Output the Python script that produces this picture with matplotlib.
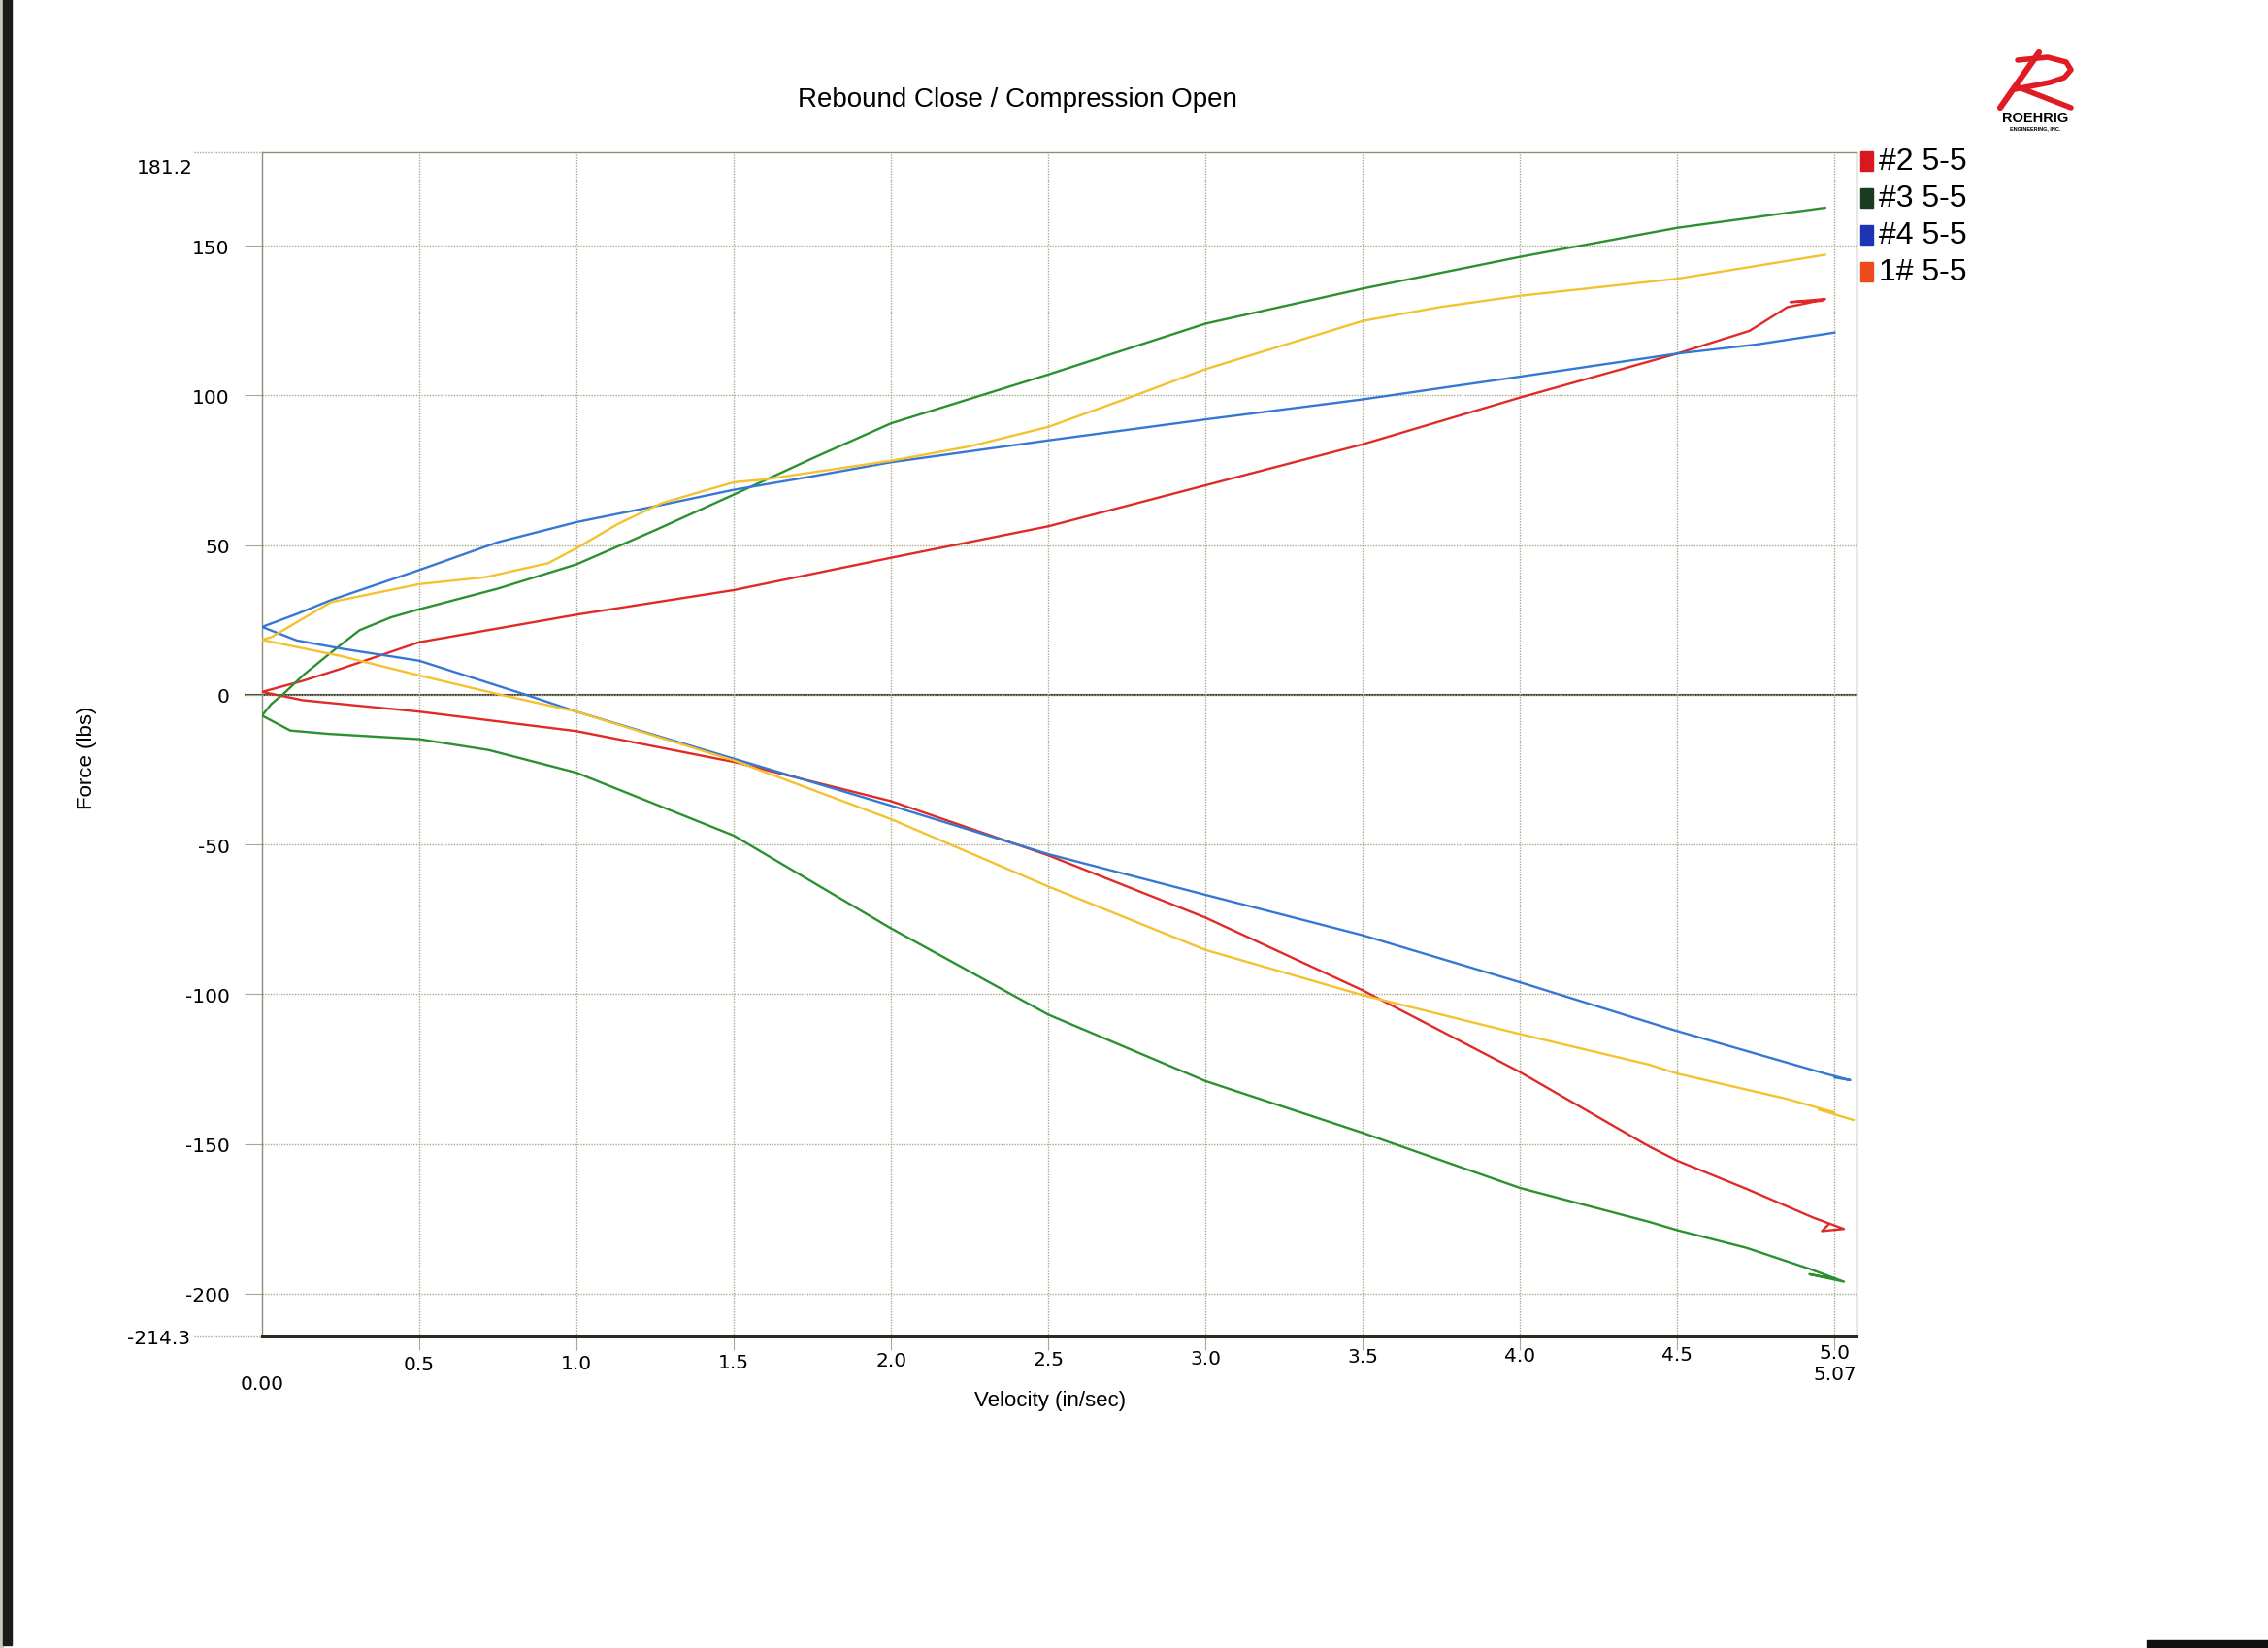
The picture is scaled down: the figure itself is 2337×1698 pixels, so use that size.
import numpy as np
import matplotlib.pyplot as plt
from matplotlib.patches import Rectangle
from matplotlib.lines import Line2D
import matplotlib.transforms as mtransforms

# series names / colours
names = ['#2 5-5', '#3 5-5', '#4 5-5', '1# 5-5']
line_colors = ['#e02a28', '#2b9030', '#3478d4', '#f2c230']
key_colors = ['#d8181e', '#183c20', '#1c34b4', '#ee4a1c']

# rebound branch (force > 0) : velocity (in/sec), force (lbs)
red_up_v = [0, 0.13, 0.25, 0.5, 1.0, 1.5, 2.0, 2.5, 3.0, 3.5, 4.0, 4.5, 4.73, 4.85, 4.92, 4.97, 4.86, 4.96]
red_up_f = [1, 4.7, 8.7, 17.6, 26.8, 35, 45.8, 56.3, 70, 83.7, 99.3, 114, 121.6, 129.5, 131, 132.2, 131.2, 131.6]
green_up_v = [0, 0.03, 0.07, 0.13, 0.2, 0.25, 0.31, 0.41, 0.5, 0.75, 1.0, 1.25, 1.5, 1.75, 2.0, 2.5, 3.0, 3.5, 4.0, 4.5, 4.97]
green_up_f = [-6.9, -3, 0.5, 6.5, 12.5, 16.7, 21.6, 25.9, 28.6, 35.5, 43.6, 55, 66.9, 79, 90.7, 107, 124, 135.7, 146.3, 156, 162.7]
blue_up_v = [0, 0.11, 0.22, 0.5, 0.75, 1.0, 1.25, 1.5, 1.75, 2.0, 2.5, 3.0, 3.5, 4.0, 4.5, 4.75, 5.0]
blue_up_f = [22.7, 27, 31.7, 41.7, 51, 57.7, 63, 68.5, 73, 77.7, 85, 92, 98.7, 106.3, 114, 117, 121]
yellow_up_v = [0, 0.03, 0.09, 0.22, 0.5, 0.71, 0.91, 1.0, 1.13, 1.27, 1.4, 1.5, 1.6, 2.0, 2.25, 2.5, 2.75, 3.0, 3.5, 3.75, 4.0, 4.5, 4.97]
yellow_up_f = [18.4, 19.3, 23, 31, 37, 39.3, 44, 49, 57, 64, 68, 71, 72, 78.2, 83, 89.5, 99, 108.8, 124.9, 129.6, 133.3, 139, 147]

# compression branch (force < 0)
red_lo_v = [0, 0.13, 0.5, 1.0, 1.5, 2.0, 2.5, 3.0, 3.5, 4.0, 4.41, 4.5, 4.72, 4.93, 5.03, 4.96, 4.98]
red_lo_f = [1, -1.8, -5.6, -12.1, -22.4, -35.5, -53.6, -74.4, -98.7, -126, -150.8, -155.6, -165, -174.5, -178.4, -179.1, -177]
green_lo_v = [0, 0.09, 0.21, 0.5, 0.72, 1.0, 1.5, 2.0, 2.5, 3.0, 3.5, 4.0, 4.41, 4.5, 4.72, 4.92, 5.03, 4.92, 5.0]
green_lo_f = [-6.9, -11.9, -13, -14.8, -18.4, -26, -47, -78, -106.8, -129, -146.3, -164.7, -176, -178.8, -184.7, -191.7, -196, -193.5, -195]
blue_lo_v = [0, 0.11, 0.25, 0.5, 0.84, 1.0, 1.5, 2.0, 2.5, 3.0, 3.5, 4.0, 4.49, 4.97, 5.05, 5.0]
blue_lo_f = [22.7, 18.2, 15.5, 11.4, 0, -5.6, -21.3, -37, -53.2, -66.8, -80.3, -96, -112, -126.5, -128.7, -127.8]
yellow_lo_v = [0, 0.04, 0.25, 0.5, 0.76, 1.0, 1.5, 2.0, 2.5, 3.0, 3.5, 4.0, 4.41, 4.5, 4.85, 5.0, 4.95, 5.06]
yellow_lo_f = [18.4, 17.5, 13, 6.5, 0, -5.6, -21.9, -41.5, -64, -85.2, -100.3, -113.3, -123.5, -126.5, -135, -139.5, -138.5, -142]

y_ticks = [-200, -150, -100, -50, 0, 50, 100, 150]
x_ticks = [0.5, 1.0, 1.5, 2.0, 2.5, 3.0, 3.5, 4.0, 4.5, 5.0]
y_min, y_max = -214.3, 181.2
x_max = 5.07

W, H = 2337, 1699
fig = plt.figure(figsize=(W / 100, H / 100), dpi=100)
ax = fig.add_axes([270 / W, 1 - 1378 / H, (1913 - 270) / W, (1378 - 158) / H])

grid_c = '#a9a98e'
tick_fs = 14.5
ax.set_xlim(0, x_max)
ax.set_ylim(y_min, y_max)
ax.set_xticks(x_ticks)
ax.set_xticklabels(['%.1f' % t for t in x_ticks])
ax.set_yticks(y_ticks)
ax.set_yticklabels([str(t) for t in y_ticks])
ax.grid(True, color=grid_c, linestyle=(0, (1, 1)), linewidth=1.0)
ax.tick_params(axis='y', length=13, width=0.8, color=grid_c, pad=11, labelsize=tick_fs)
ax.tick_params(axis='x', length=10, width=0.8, color=grid_c, pad=4, labelsize=tick_fs)
for lab in ax.get_xticklabels() + ax.get_yticklabels():
    lab.set_family('DejaVu Sans')
# the scanned page is slightly rotated: x labels climb to the right
for t, lab in zip(x_ticks, ax.get_xticklabels()):
    lab.set_transform(lab.get_transform() +
                      mtransforms.ScaledTranslation(0, 0.027 * (t - 0.5), fig.dpi_scale_trans))

for side in ['top', 'right', 'left']:
    ax.spines[side].set_color('#8e8e78')
    ax.spines[side].set_linewidth(1.0)
ax.spines['bottom'].set_color('#2a2a22')
ax.spines['bottom'].set_linewidth(2.2)

# zero line and the end-of-range gridlines reaching past the axis
ax.axhline(0, xmin=-0.0103, xmax=1, color='#4a4a3a', linewidth=1.5, clip_on=False, zorder=1.5)
for yv in [y_min, y_max]:
    ax.axhline(yv, xmin=-0.0426, xmax=0, color=grid_c, linestyle=(0, (1, 1)), linewidth=1.0, clip_on=False)

trans = mtransforms.blended_transform_factory(ax.transAxes, ax.transData)
ax.annotate('181.2', xy=(0, y_max), xycoords=trans, xytext=(-51, -11), textcoords='offset points',
            ha='right', va='center', fontsize=tick_fs, family='DejaVu Sans')
ax.annotate('-214.3', xy=(0, y_min), xycoords=trans, xytext=(-53, -1), textcoords='offset points',
            ha='right', va='center', fontsize=tick_fs, family='DejaVu Sans')
ax.annotate('0.00', xy=(0, y_min), xytext=(0, -35), textcoords='offset points',
            ha='center', va='center', fontsize=tick_fs, family='DejaVu Sans', annotation_clip=False)
ax.annotate('5.07', xy=(x_max, y_min), xytext=(0, -28), textcoords='offset points',
            ha='right', va='center', fontsize=tick_fs, family='DejaVu Sans', annotation_clip=False)

ups = [(red_up_v, red_up_f), (green_up_v, green_up_f), (blue_up_v, blue_up_f), (yellow_up_v, yellow_up_f)]
los = [(red_lo_v, red_lo_f), (green_lo_v, green_lo_f), (blue_lo_v, blue_lo_f), (yellow_lo_v, yellow_lo_f)]
for (uv, uf), (lv, lf), c in zip(ups, los, line_colors):
    v = list(lv[::-1]) + list(uv)
    f = list(lf[::-1]) + list(uf)
    ax.plot(v, f, color=c, linewidth=1.7, zorder=3)

sans = 'Liberation Sans'
narrow = ['Liberation Sans Narrow', 'Liberation Sans']
fig.text(1048 / W, 1 - 103 / H, 'Rebound Close / Compression Open', ha='center', va='center',
         fontsize=20, family=sans)
fig.text(1082 / W, 1 - 1444 / H, 'Velocity (in/sec)', ha='center', va='center', fontsize=16, family=narrow)
fig.text(89 / W, 1 - 781 / H, 'Force (lbs)', ha='center', va='center', rotation=90, fontsize=16, family=narrow)

# legend keys
for i, (name, kc) in enumerate(zip(names, key_colors)):
    yc = 167 + 38 * i
    fig.add_artist(Rectangle((1917 / W, 1 - (yc + 10) / H), 13 / W, 20 / H,
                             transform=fig.transFigure, color=kc))
    fig.text(1936 / W, 1 - yc / H, name, ha='left', va='center', fontsize=23, family=sans)

# logo
def px(pts):
    return [p[0] / W for p in pts], [1 - p[1] / H for p in pts]

for pts, lw in [([(2061, 112), (2101, 55)], 4.5),
                ([(2079, 63), (2110, 60), (2129, 65), (2134, 73), (2127, 81), (2112, 86), (2076, 93)], 4.0),
                ([(2080, 91), (2134, 112)], 4.0)]:
    xs, ys = px(pts)
    fig.add_artist(Line2D(xs, ys, color='#e01b24', linewidth=lw, solid_capstyle='round'))
fig.text(2097 / W, 1 - 122 / H, 'ROEHRIG', ha='center', va='center', fontsize=10.5,
         fontweight='bold', family=sans)
fig.text(2097 / W, 1 - 133 / H, 'ENGINEERING, INC.', ha='center', va='center', fontsize=4,
         fontweight='bold', family=sans)

# scanner edges
fig.add_artist(Rectangle((0, 0), 3 / W, 1, transform=fig.transFigure, color='#c9c9bd'))
fig.add_artist(Rectangle((3 / W, 3 / H), 9 / W, 1 - 3 / H, transform=fig.transFigure, color='#1c1c1c'))
fig.add_artist(Rectangle((2212 / W, 0), 125 / W, 8 / H, transform=fig.transFigure, color='#111111'))

fig.savefig('out.png', dpi=100)
